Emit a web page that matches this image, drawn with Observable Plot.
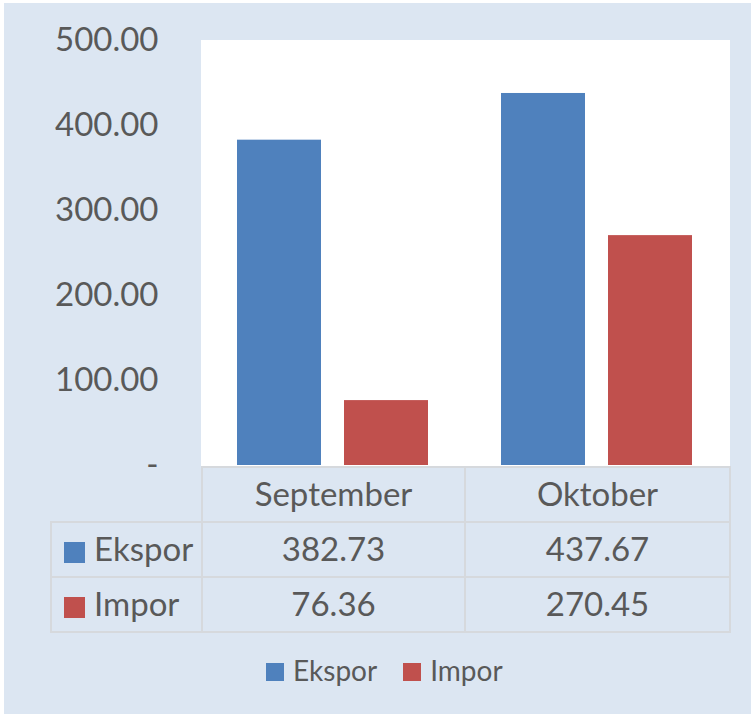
<!DOCTYPE html>
<html>
<head>
<meta charset="utf-8">
<script src="https://cdn.jsdelivr.net/npm/d3@7"></script>
<script src="https://cdn.jsdelivr.net/npm/@observablehq/plot@0.6"></script>
<style>
  html, body { margin: 0; padding: 0; background: #ffffff; }
  #wrap { position: relative; width: 751px; height: 714px; background: #ffffff; overflow: hidden; font-family: Lato, "Open Sans", sans-serif; color: #595959; }
  #bg { position: absolute; left: 4px; top: 3px; right: 0; bottom: 0; background: #dce6f2; }
  #chart { position: absolute; left: 0; top: 0; }
  #tbl { position: absolute; left: 50px; top: 466px; border-collapse: collapse; table-layout: fixed; }
  #tbl td { padding: 0 0 4px 0; height: 49px; font-size: 33px; text-align: center; vertical-align: middle; border: 2px solid #d6d9dd; color: #595959; white-space: nowrap; }
  #tbl td.blank { border: none; }
  #tbl td.lab { text-align: left; padding-left: 12px; }
  .sq { display: inline-block; vertical-align: middle; margin-right: 9px; position: relative; top: 0px; }
  #legend { position: absolute; left: 266px; top: 653px; display: flex; align-items: center; font-size: 28px; color: #595959; }
  #legend .item { display: flex; align-items: center; margin-right: 26px; }
  #legend .lsq { width: 18px; height: 18px; margin-right: 9px; position: relative; top: 2px; }
</style>
</head>
<body>
<div id="wrap">
  <div id="bg"></div>
  <div id="chart"></div>
  <table id="tbl"></table>
  <div id="legend"></div>
</div>
<script>
const months = ["September", "Oktober"];
const series = ["Ekspor", "Impor"];
const ekspor = [382.73, 437.67];
const impor = [76.36, 270.45];
const yTicks = [0, 100, 200, 300, 400, 500];
const colors = ["#4f81bd", "#c0504d"];

const values = {Ekspor: ekspor, Impor: impor};
const data = [];
months.forEach((m, i) => series.forEach(s => data.push({month: m, series: s, value: values[s][i]})));

const plot = Plot.plot({
  width: 751,
  height: 466,
  marginLeft: 201,
  marginRight: 22,
  marginTop: 40,
  marginBottom: 1,
  style: {background: "transparent", color: "#595959", fontFamily: "Lato, 'Open Sans', sans-serif", overflow: "visible"},
  fx: {domain: months, padding: 0, axis: null},
  x: {domain: series, paddingInner: 0.213, paddingOuter: 0.333, axis: null},
  y: {domain: [0, 500], axis: null},
  color: {domain: series, range: colors},
  marks: [
    Plot.frame({fill: "white", stroke: "white", strokeWidth: 1}),
    Plot.barY(data, {fx: "month", x: "series", y: "value", fill: "series"}),
    Plot.axisY(yTicks, {
      tickSize: 0,
      tickPadding: 43,
      fontSize: 33,
      fill: "#595959",
      label: null,
      tickFormat: d => d === 0 ? "-" : d.toFixed(2)
    })
  ]
});
document.getElementById("chart").appendChild(plot);

// data table
const tbl = document.getElementById("tbl");
const colg = document.createElement("colgroup");
[151, 263, 265].forEach(w => { const c = document.createElement("col"); c.style.width = w + "px"; colg.appendChild(c); });
tbl.appendChild(colg);
const hdr = document.createElement("tr");
const blank = document.createElement("td"); blank.className = "blank"; hdr.appendChild(blank);
months.forEach(m => { const td = document.createElement("td"); td.textContent = m; hdr.appendChild(td); });
tbl.appendChild(hdr);
series.forEach((s, si) => {
  const tr = document.createElement("tr");
  const lab = document.createElement("td"); lab.className = "lab";
  const sq = document.createElement("span"); sq.className = "sq";
  sq.style.width = "21px"; sq.style.height = "21px"; sq.style.background = colors[si];
  lab.appendChild(sq); lab.appendChild(document.createTextNode(s));
  tr.appendChild(lab);
  values[s].forEach(v => { const td = document.createElement("td"); td.textContent = v.toFixed(2); tr.appendChild(td); });
  tbl.appendChild(tr);
});

// legend
const leg = document.getElementById("legend");
series.forEach((s, si) => {
  const it = document.createElement("div"); it.className = "item";
  const sq = document.createElement("div"); sq.className = "lsq"; sq.style.background = colors[si];
  const tx = document.createElement("span"); tx.textContent = s;
  it.appendChild(sq); it.appendChild(tx); leg.appendChild(it);
});
</script>
</body>
</html>
